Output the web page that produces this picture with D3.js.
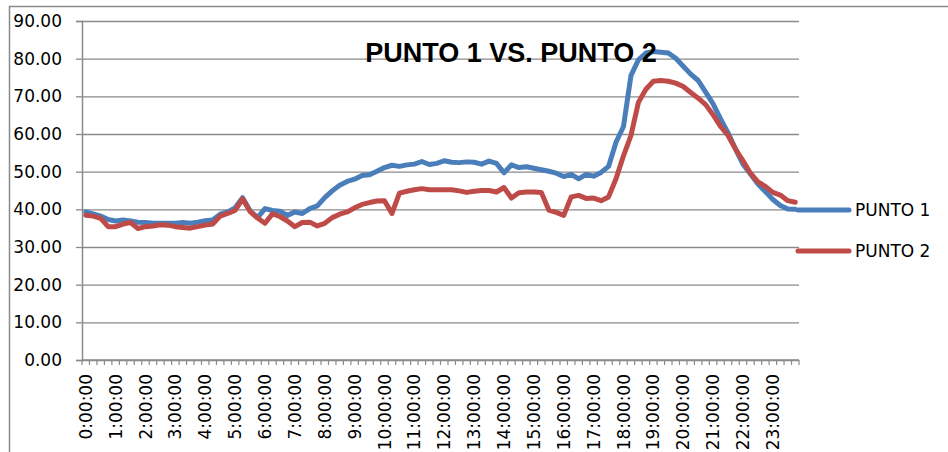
<!DOCTYPE html>
<html>
<head>
<meta charset="utf-8">
<script src="https://cdn.jsdelivr.net/npm/d3@7"></script>
<style>
  body { margin: 0; background: #fff; }
  svg { display: block; }
</style>
</head>
<body>
<svg width="948" height="452"></svg>
<script>
// 15 minute readings over one day
var times = d3.range(96).map(function (i) {
  return Math.floor(i / 4) + ":" + ["00", "15", "30", "45"][i % 4] + ":00";
});

var hourLabels = ["0:00:00", "1:00:00", "2:00:00", "3:00:00", "4:00:00", "5:00:00",
  "6:00:00", "7:00:00", "8:00:00", "9:00:00", "10:00:00", "11:00:00", "12:00:00",
  "13:00:00", "14:00:00", "15:00:00", "16:00:00", "17:00:00", "18:00:00",
  "19:00:00", "20:00:00", "21:00:00", "22:00:00", "23:00:00"];

var yTicks = [0, 10, 20, 30, 40, 50, 60, 70, 80, 90];

var punto1 = [39.3, 38.8, 38.2, 37.3, 36.9, 37.2, 36.9, 36.6, 36.5, 36.3, 36.3, 36.3,
  36.3, 36.5, 36.3, 36.6, 37.0, 37.2, 38.7, 39.3, 40.4, 43.1, 39.6, 37.8,
  40.2, 39.7, 39.5, 38.4, 39.3, 38.9, 40.2, 40.9, 43.1, 44.9, 46.4, 47.4,
  48.0, 49.0, 49.2, 50.1, 51.1, 51.7, 51.4, 51.8, 52.0, 52.7, 51.9, 52.2,
  52.9, 52.5, 52.4, 52.6, 52.5, 52.0, 52.8, 52.2, 49.7, 51.8, 51.1, 51.3,
  50.9, 50.5, 50.1, 49.6, 48.7, 49.3, 48.1, 49.3, 48.8, 49.8, 51.4, 57.8,
  62.0, 75.5, 79.7, 81.5, 81.9, 81.7, 81.5, 80.1, 78.0, 75.9, 74.2, 71.1,
  68.0, 64.0, 60.3, 56.0, 52.0, 49.4, 46.7, 44.7, 42.6, 41.0, 40.1, 40.0];

var punto2 = [38.4, 38.2, 37.6, 35.4, 35.4, 36.1, 36.5, 34.9, 35.4, 35.6, 35.9, 35.8,
  35.4, 35.2, 35.0, 35.4, 35.8, 36.1, 38.2, 38.9, 39.7, 42.8, 39.4, 37.7,
  36.3, 38.8, 38.1, 36.9, 35.4, 36.5, 36.6, 35.6, 36.3, 37.8, 38.7, 39.3,
  40.4, 41.3, 41.8, 42.2, 42.3, 38.9, 44.3, 44.8, 45.2, 45.5, 45.2, 45.2,
  45.2, 45.2, 44.9, 44.5, 44.8, 45.0, 45.0, 44.6, 45.8, 43.0, 44.4, 44.6,
  44.6, 44.5, 39.8, 39.2, 38.4, 43.3, 43.7, 42.9, 43.0, 42.3, 43.3, 48.1,
  54.2, 59.6, 68.4, 71.9, 74.0, 74.2, 74.0, 73.5, 72.6, 71.0, 69.5, 67.8,
  65.1, 62.0, 59.6, 56.0, 52.9, 49.6, 47.3, 46.1, 44.5, 43.8, 42.3, 41.9];

var seriesNames = ["PUNTO 1", "PUNTO 2"];
var colors = ["#4a7ebb", "#be4b48"];

var svg = d3.select("svg");
var gridColor = "#8a8a8a";
var font = "'DejaVu Sans', sans-serif";

// outer chart frame
svg.append("rect")
  .attr("x", 9.5).attr("y", 6.5)
  .attr("width", 1000).attr("height", 1000)
  .attr("fill", "none")
  .attr("stroke", gridColor)
  .attr("stroke-width", 1.5);

var plotLeft = 82, plotRight = 799, plotTop = 21, plotBottom = 360;

var x = d3.scaleBand().domain(times).range([plotLeft, plotRight]).padding(0);
var y = d3.scaleLinear().domain([0, 90]).range([plotBottom, plotTop]);

// gridlines
svg.append("g")
  .attr("transform", "translate(" + plotLeft + ",0)")
  .call(d3.axisLeft(y).tickValues(yTicks).tickSize(-(plotRight - plotLeft)).tickFormat(""))
  .call(function (g) {
    g.select(".domain").remove();
    g.selectAll("line").attr("stroke", gridColor).attr("stroke-width", 1.3);
  });

var yAxis = svg.append("g")
  .attr("transform", "translate(" + plotLeft + ",0)")
  .call(d3.axisLeft(y).tickValues(yTicks).tickSize(6).tickPadding(14).tickFormat(d3.format(".2f")));
yAxis.select(".domain").attr("stroke", gridColor).attr("stroke-width", 1.5);
yAxis.selectAll("line").attr("stroke", gridColor).attr("stroke-width", 1.3);
yAxis.selectAll("text")
  .attr("font-family", font)
  .attr("font-size", "17px")
  .attr("fill", "#000");

// x tick marks at category boundaries
var bounds = times.map(function (t) { return x(t); }).concat([plotRight]);
svg.append("g")
  .selectAll("line")
  .data(bounds)
  .enter()
  .append("line")
  .attr("x1", function (d) { return d; })
  .attr("x2", function (d) { return d; })
  .attr("y1", plotBottom)
  .attr("y2", plotBottom + 5)
  .attr("stroke", gridColor)
  .attr("stroke-width", 1.2);

svg.append("line")
  .attr("x1", plotLeft).attr("x2", plotRight)
  .attr("y1", plotBottom).attr("y2", plotBottom)
  .attr("stroke", gridColor).attr("stroke-width", 1.5);

// x labels, one per hour
var xAxis = svg.append("g")
  .attr("transform", "translate(0," + plotBottom + ")")
  .call(d3.axisBottom(x).tickValues(hourLabels).tickSize(0));
xAxis.select(".domain").remove();
xAxis.selectAll("text")
  .attr("font-family", font)
  .attr("font-size", "17px")
  .attr("fill", "#000")
  .attr("text-anchor", "end")
  .attr("transform", "translate(0,14) rotate(-90)")
  .attr("x", 0)
  .attr("y", 0)
  .attr("dy", "0.36em");

// lines
var line = d3.line()
  .x(function (d, i) { return x(times[i]) + x.bandwidth() / 2; })
  .y(function (d) { return y(d); });

[punto1, punto2].forEach(function (s, k) {
  svg.append("path")
    .datum(s)
    .attr("fill", "none")
    .attr("stroke", colors[k])
    .attr("stroke-width", 5)
    .attr("stroke-linejoin", "round")
    .attr("stroke-linecap", "round")
    .attr("d", line);
});

// legend
var legendY = [210, 251];
seriesNames.forEach(function (name, k) {
  svg.append("line")
    .attr("x1", 798).attr("x2", 849)
    .attr("y1", legendY[k]).attr("y2", legendY[k])
    .attr("stroke", colors[k])
    .attr("stroke-width", 5)
    .attr("stroke-linecap", "round");
  svg.append("text")
    .attr("x", 855)
    .attr("y", legendY[k])
    .attr("dy", "0.36em")
    .attr("font-family", font)
    .attr("font-size", "17px")
    .attr("fill", "#000")
    .text(name);
});

// title
svg.append("text")
  .attr("x", 511)
  .attr("y", 62)
  .attr("text-anchor", "middle")
  .attr("font-family", "'Liberation Sans', Arial, sans-serif")
  .attr("font-weight", "bold")
  .attr("font-size", "27px")
  .attr("fill", "#000")
  .text("PUNTO 1 VS. PUNTO 2");
</script>
</body>
</html>
